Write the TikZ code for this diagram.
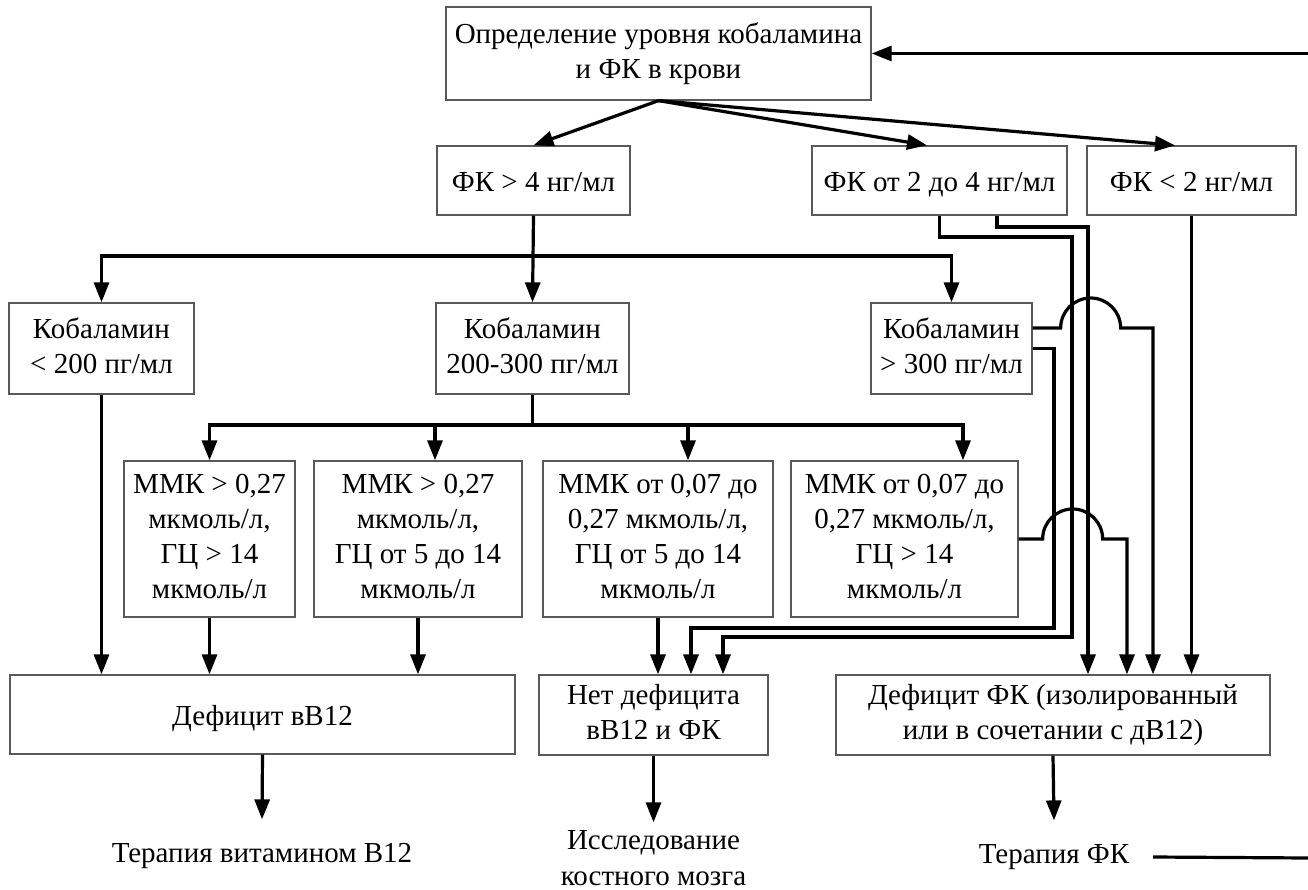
\documentclass[tikz,border=0pt]{standalone}
\usepackage{fontspec}
\setmainfont{Liberation Serif}
\usetikzlibrary{arrows.meta}
\newcommand\boxstrut{\rule[-6pt]{0pt}{35pt}}
\begin{document}
\begin{tikzpicture}[x=1pt,y=-1pt,
  box/.style={draw=black!65,line width=1.3pt,inner sep=0pt,align=center,
    font=\fontsize{29}{35}\selectfont,
    execute at begin node=\boxstrut, execute at end node=\boxstrut},
  txt/.style={inner sep=0pt,align=center,font=\fontsize{29}{36}\selectfont},
  arr/.style={line width=3.2pt,-{Triangle[length=20pt,width=15pt]}},
  ln/.style={line width=3.2pt}]
\fill[white] (0,0) rectangle (1308,890);
\useasboundingbox (0,0) rectangle (1308,890);
% nodes
\node[box,minimum width=425pt,minimum height=93pt] (top) at (658.5,53.5) {Определение уровня кобаламина\\и ФК в крови};
\node[box,minimum width=193pt,minimum height=69pt] (fk4) at (533.5,180.5) {ФК > 4 нг/мл};
\node[box,minimum width=255pt,minimum height=69pt] (fk24) at (939.5,180.5) {ФК от 2 до 4 нг/мл};
\node[box,minimum width=209pt,minimum height=69pt] (fk2) at (1191.5,180.5) {ФК < 2 нг/мл};
\node[box,minimum width=185pt,minimum height=91pt] (kobA) at (101.5,348.5) {Кобаламин\\< 200 пг/мл};
\node[box,minimum width=193pt,minimum height=91pt] (kobB) at (532.5,348.5) {Кобаламин\\200-300 пг/мл};
\node[box,minimum width=161pt,minimum height=91pt] (kobC) at (951.5,348.5) {Кобаламин\\> 300 пг/мл};
\node[box,minimum width=171pt,minimum height=156pt] (mmk1) at (209.5,539) {ММК > 0,27\\мкмоль/л,\\ГЦ > 14\\мкмоль/л};
\node[box,minimum width=208pt,minimum height=156pt] (mmk2) at (418,539) {ММК > 0,27\\мкмоль/л,\\ГЦ от 5 до 14\\мкмоль/л};
\node[box,minimum width=230pt,minimum height=156pt] (mmk3) at (658,539) {ММК от 0,07 до\\0,27 мкмоль/л,\\ГЦ от 5 до 14\\мкмоль/л};
\node[box,minimum width=227pt,minimum height=156pt] (mmk4) at (904.5,539) {ММК от 0,07 до\\0,27 мкмоль/л,\\ГЦ > 14\\мкмоль/л};
\node[box,minimum width=505pt,minimum height=79pt] (defB) at (262.5,714.5) {Дефицит вВ12};
\node[box,minimum width=229pt,minimum height=80pt] (nodef) at (653.5,715) {Нет дефицита\\вВ12 и ФК};
\node[box,minimum width=434pt,minimum height=80pt] (defFK) at (1053,715) {Дефицит ФК (изолированный\\или в сочетании с дВ12)};
\node[txt,outer sep=24pt] (t1) at (262,856) {Терапия витамином В12};
\node[txt,outer sep=8pt] (t2) at (653.5,858) {Исследование\\костного мозга};
\node[txt,outer sep=24pt] (t3) at (1054,857) {Терапия ФК};
% helper coordinates
\coordinate (fbTop) at (1308,53.5);
\coordinate (fbBot) at (1308,858);
\coordinate (r1) at (0,256);
\coordinate (r2) at (0,425);
\coordinate (xC) at (1054,0);
\coordinate (xA) at (1072,0);
\coordinate (xB) at (1088,0);
\coordinate (xF) at (1127,0);
\coordinate (xD) at (1153,0);
\coordinate (kcu) at ([yshift=20.5pt]kobC.east);
% feedback
\draw[arr] (fbTop) -- (top.east);
\draw[ln] (t3.east) -- (fbBot);
% top level
\draw[arr] (top.south) -- (fk4.north);
\draw[arr] (top.south) -- ([xshift=-12.5pt]fk24.north);
\draw[arr] (top.south) -- ([xshift=-16.5pt]fk2.north);
% cobalamin level
\draw[arr] (fk4.south) -- (kobB.north);
\draw[arr] (fk4.south |- r1) -| (kobA.north);
\draw[arr] (fk4.south |- r1) -| (kobC.north);
% MMK level
\draw[ln] (kobB.south) -- (kobB.south |- r2);
\draw[arr] (kobB.south |- r2) -| (mmk1.north);
\draw[arr] (kobB.south |- r2) -| ([xshift=17pt]mmk2.north);
\draw[arr] (kobB.south |- r2) -| ([xshift=30pt]mmk3.north);
\draw[arr] (kobB.south |- r2) -| ([xshift=58.5pt]mmk4.north);
% to bottom boxes
\draw[arr] (kobA.south) -- (kobA.south |- defB.north);
\draw[arr] (mmk1.south) -- (mmk1.south |- defB.north);
\draw[arr] (mmk2.south) -- (mmk2.south |- defB.north);
\draw[arr] (mmk3.south) -- (mmk3.south |- nodef.north);
% right side routes
\draw[arr] (fk24.south) |- (xA |- 0,237) -- (xA |- 0,637) -| ([xshift=69.5pt]nodef.north);
\draw[arr] ([xshift=57.5pt]fk24.south) |- (xB |- 0,227) -- (xB |- defFK.north);
\draw[arr] (kobC.east) -| (xC |- 0,628) -| ([xshift=37.5pt]nodef.north);
\draw[arr] (kcu) -- ++(28,0) arc[start angle=180,end angle=0,radius=30pt] -- (xD |- kcu) -- (xD |- defFK.north);
\draw[arr] (fk2.south) -- (fk2.south |- defFK.north);
\draw[arr] (mmk4.east) -- ++(24,0) arc[start angle=180,end angle=0,radius=30pt] -- (xF |- mmk4.east) -- (xF |- defFK.north);
% outputs
\draw[arr] (defB.south) -- (t1.north);
\draw[arr] (nodef.south) -- (t2.north);
\draw[arr] (defFK.south) -- (t3.north);
\end{tikzpicture}
\end{document}
